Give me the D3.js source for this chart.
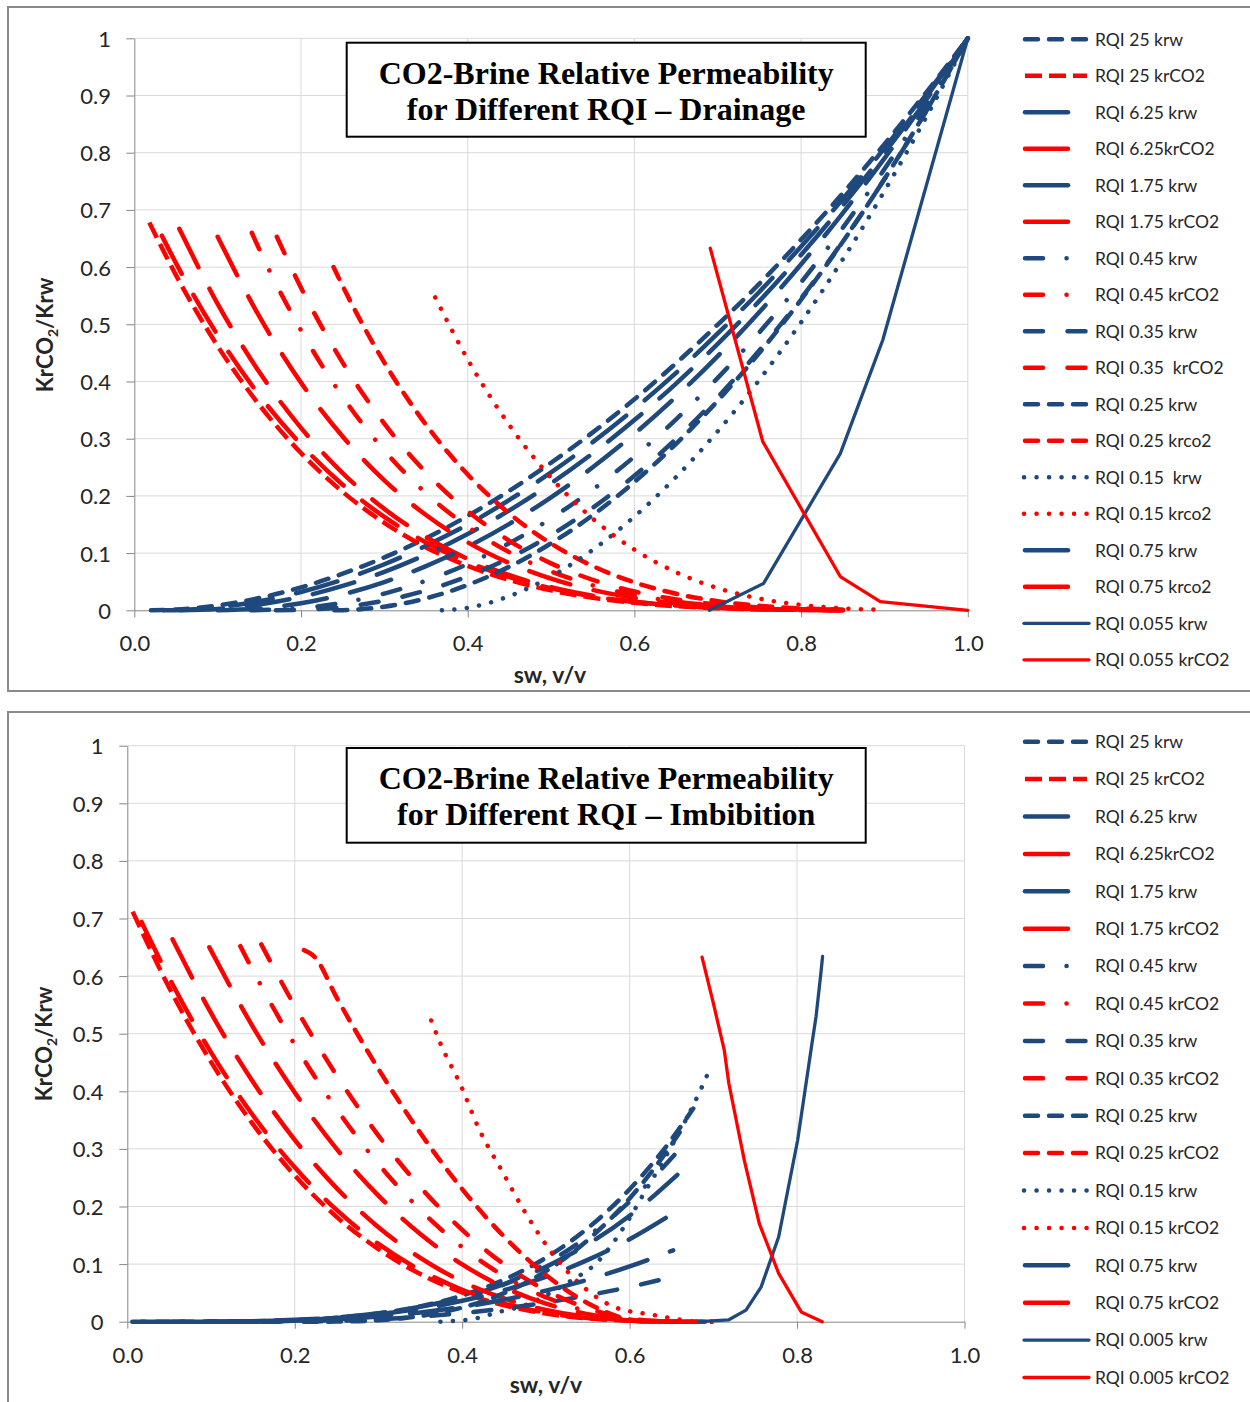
<!DOCTYPE html>
<meta charset="utf-8">
<script src="https://d3js.org/d3.v7.min.js"></script>
<style>
  body { margin: 0; background: #fff; }
  text { font-family: Lato, "Open Sans", sans-serif; }
</style>
<div id="chart"></div>
<script>
// ---------- data (Sw, kr) ----------
var xTicks = [0, 0.2, 0.4, 0.6, 0.8, 1.0];
var yTicks = [0, 0.1, 0.2, 0.3, 0.4, 0.5, 0.6, 0.7, 0.8, 0.9, 1];

// drainage, krw
var drKrw25   = [[0.02,0],[0.05,0.0013],[0.1,0.0086],[0.15,0.0215],[0.2,0.040],[0.25,0.064],[0.3,0.0925],[0.35,0.126],[0.4,0.165],[0.45,0.209],[0.5,0.258],[0.55,0.311],[0.6,0.369],[0.65,0.432],[0.7,0.4995],[0.75,0.571],[0.8,0.648],[0.85,0.729],[0.9,0.815],[0.95,0.905],[1,1]];
var drKrw625  = [[0.035,0],[0.05,0.0003],[0.1,0.0052],[0.15,0.0158],[0.2,0.032],[0.25,0.0535],[0.3,0.0805],[0.35,0.113],[0.4,0.150],[0.45,0.193],[0.5,0.241],[0.55,0.294],[0.6,0.352],[0.65,0.415],[0.7,0.484],[0.75,0.557],[0.8,0.636],[0.85,0.719],[0.9,0.808],[0.95,0.9015],[1,1]];
var drKrw175  = [[0.055,0],[0.1,0.0023],[0.15,0.0101],[0.2,0.0235],[0.25,0.0426],[0.3,0.0672],[0.35,0.0975],[0.4,0.1333],[0.45,0.1747],[0.5,0.2218],[0.55,0.2744],[0.6,0.3326],[0.65,0.3964],[0.7,0.4658],[0.75,0.5409],[0.8,0.6215],[0.85,0.7077],[0.9,0.7996],[0.95,0.897],[1,1]];
var drKrw045  = [[0.14,0],[0.2,0.0037],[0.25,0.0133],[0.3,0.0292],[0.35,0.0518],[0.4,0.081],[0.45,0.1174],[0.5,0.1606],[0.55,0.211],[0.6,0.2687],[0.65,0.3338],[0.7,0.4063],[0.75,0.486],[0.8,0.5735],[0.85,0.6687],[0.9,0.7714],[0.95,0.8819],[1,1]];
var drKrw035  = [[0.17,0],[0.2,0.0007],[0.25,0.0058],[0.3,0.0169],[0.35,0.0347],[0.4,0.0594],[0.45,0.0916],[0.5,0.1315],[0.55,0.1793],[0.6,0.2353],[0.65,0.2997],[0.7,0.3728],[0.75,0.4545],[0.8,0.5453],[0.85,0.645],[0.9,0.7539],[0.95,0.8723],[1,1]];
var drKrw025  = [[0.24,0],[0.25,0.0002],[0.3,0.0062],[0.35,0.0209],[0.4,0.0443],[0.45,0.0763],[0.5,0.117],[0.55,0.1664],[0.6,0.2244],[0.65,0.291],[0.7,0.3664],[0.75,0.4503],[0.8,0.543],[0.85,0.6442],[0.9,0.7541],[0.95,0.8727],[1,1]];
var drKrw015  = [[0.369,0],[0.4,0.0044],[0.45,0.0248],[0.5,0.059],[0.55,0.1056],[0.6,0.1638],[0.65,0.233],[0.7,0.313],[0.75,0.403],[0.8,0.5035],[0.85,0.6135],[0.9,0.733],[0.95,0.862],[1,1]];
var drKrw075  = [[0.1,0],[0.15,0.0031],[0.2,0.0123],[0.25,0.0278],[0.3,0.0494],[0.35,0.0772],[0.4,0.1111],[0.45,0.1512],[0.5,0.1975],[0.55,0.25],[0.6,0.3086],[0.65,0.3735],[0.7,0.4444],[0.75,0.5216],[0.8,0.605],[0.85,0.6944],[0.9,0.7901],[0.95,0.892],[1,1]];
var drKrw0055 = [[0.69,0],[0.755,0.047],[0.847,0.274],[0.898,0.4725],[1,1]];

// drainage, krCO2
var drKrg25   = [[0.018,0.678],[0.05,0.586],[0.1,0.462],[0.15,0.359],[0.2,0.275],[0.25,0.207],[0.3,0.153],[0.35,0.110],[0.4,0.0776],[0.45,0.0529],[0.5,0.0348],[0.55,0.0219],[0.6,0.013],[0.65,0.0072],[0.7,0.0037],[0.75,0.0017],[0.8,0.0007],[0.85,0.0002]];
var drKrg625  = [[0.033,0.655],[0.05,0.607],[0.1,0.481],[0.15,0.376],[0.2,0.29],[0.25,0.2196],[0.3,0.1633],[0.35,0.1187],[0.4,0.0842],[0.45,0.0579],[0.5,0.0384],[0.55,0.0244],[0.6,0.0147],[0.65,0.0083],[0.7,0.0043],[0.75,0.002],[0.8,0.0008],[0.85,0.0002]];
var drKrg175  = [[0.054,0.667],[0.1,0.5357],[0.15,0.4165],[0.2,0.319],[0.25,0.24],[0.3,0.1773],[0.35,0.128],[0.4,0.0899],[0.45,0.0614],[0.5,0.0403],[0.55,0.0254],[0.6,0.0151],[0.65,0.0084],[0.7,0.0043],[0.75,0.002],[0.8,0.0008],[0.85,0.0002]];
var drKrg045  = [[0.141,0.66],[0.15,0.631],[0.2,0.4895],[0.25,0.3732],[0.3,0.2794],[0.35,0.2046],[0.4,0.1463],[0.45,0.1015],[0.5,0.068],[0.55,0.0437],[0.6,0.0267],[0.65,0.0152],[0.7,0.008],[0.75,0.0037],[0.8,0.0014],[0.85,0.0004]];
var drKrg035  = [[0.171,0.653],[0.2,0.564],[0.25,0.433],[0.3,0.3264],[0.35,0.2409],[0.4,0.1736],[0.45,0.1215],[0.5,0.0821],[0.55,0.0533],[0.6,0.0329],[0.65,0.019],[0.7,0.0101],[0.75,0.0048],[0.8,0.0019],[0.85,0.0006]];
var drKrg025  = [[0.239,0.6],[0.25,0.567],[0.3,0.433],[0.35,0.3244],[0.4,0.2374],[0.45,0.1691],[0.5,0.1166],[0.55,0.0773],[0.6,0.0488],[0.65,0.029],[0.7,0.0159],[0.75,0.0078],[0.8,0.0033],[0.85,0.0011]];
var drKrg015  = [[0.361,0.547],[0.4,0.4388],[0.45,0.3236],[0.5,0.2318],[0.55,0.1603],[0.6,0.1061],[0.65,0.0665],[0.7,0.0388],[0.75,0.0205],[0.8,0.0094],[0.85,0.0034],[0.9,0.0009]];
var drKrg075  = [[0.1,0.653],[0.15,0.5137],[0.2,0.398],[0.25,0.3037],[0.3,0.2272],[0.35,0.1665],[0.4,0.1189],[0.45,0.0825],[0.5,0.0553],[0.55,0.0355],[0.6,0.0217],[0.65,0.0124],[0.7,0.0065],[0.75,0.003],[0.8,0.0012],[0.85,0.0004]];
var drKrg0055 = [[0.691,0.633],[0.754,0.295],[0.847,0.059],[0.895,0.015],[1,0]];

// imbibition, krw
var imKrw25   = [[0.006,0],[0.1,0.0002],[0.15,0.0009],[0.2,0.0028],[0.25,0.0068],[0.3,0.0143],[0.35,0.0266],[0.4,0.0454],[0.45,0.0729],[0.5,0.111],[0.55,0.1624],[0.6,0.23],[0.65,0.3164],[0.676,0.37]];
var imKrw625  = [[0.017,0],[0.1,0.0002],[0.15,0.001],[0.2,0.0032],[0.25,0.0074],[0.3,0.0147],[0.35,0.0259],[0.4,0.0423],[0.45,0.065],[0.5,0.0952],[0.55,0.1344],[0.6,0.184],[0.657,0.255]];
var imKrw175  = [[0.054,0],[0.1,0.0001],[0.15,0.0008],[0.2,0.0027],[0.25,0.0066],[0.3,0.0131],[0.35,0.0228],[0.4,0.0364],[0.45,0.0546],[0.5,0.078],[0.55,0.1073],[0.6,0.1432],[0.654,0.19]];
var imKrw045  = [[0.135,0],[0.2,0.0006],[0.25,0.0032],[0.3,0.0093],[0.35,0.0206],[0.4,0.0386],[0.45,0.0648],[0.5,0.1008],[0.55,0.1482],[0.6,0.2084],[0.66,0.30]];
var imKrw035  = [[0.16,0],[0.2,0.0002],[0.25,0.0016],[0.3,0.0043],[0.35,0.0087],[0.4,0.015],[0.45,0.0231],[0.5,0.0333],[0.55,0.0457],[0.6,0.0603],[0.652,0.078]];
var imKrw025  = [[0.211,0],[0.25,0.0002],[0.3,0.0026],[0.35,0.0098],[0.4,0.0245],[0.45,0.0496],[0.5,0.0878],[0.55,0.1416],[0.6,0.214],[0.65,0.3076],[0.664,0.338]];
var imKrw015  = [[0.374,0],[0.417,0.006],[0.444,0.017],[0.476,0.029],[0.504,0.049],[0.531,0.072],[0.559,0.1],[0.6,0.18],[0.618,0.225],[0.636,0.269],[0.654,0.315],[0.673,0.367],[0.6865,0.408],[0.698,0.446]];
var imKrw075  = [[0.098,0],[0.15,0.0003],[0.2,0.0015],[0.25,0.0043],[0.3,0.009],[0.35,0.016],[0.4,0.0256],[0.45,0.0381],[0.5,0.0539],[0.55,0.073],[0.6,0.096],[0.652,0.124]];
var imKrw0005 = [[0.683,0],[0.718,0.003],[0.739,0.02],[0.757,0.06],[0.778,0.147],[0.8007,0.315],[0.8167,0.472],[0.8227,0.53],[0.828,0.599],[0.8305,0.634]];

// imbibition, krCO2
var imKrg25   = [[0.0064,0.712],[0.05,0.58],[0.1,0.451],[0.15,0.343],[0.2,0.254],[0.25,0.182],[0.3,0.126],[0.35,0.0826],[0.4,0.0508],[0.45,0.0286],[0.5,0.0142],[0.55,0.0057],[0.6,0.0016],[0.65,0.0002],[0.7,0]];
var imKrg625  = [[0.017,0.694],[0.05,0.597],[0.1,0.4676],[0.15,0.3585],[0.2,0.268],[0.25,0.194],[0.3,0.135],[0.35,0.0895],[0.4,0.0555],[0.45,0.0315],[0.5,0.0156],[0.55,0.0062],[0.6,0.0017],[0.65,0.0001],[0.69,0]];
var imKrg175  = [[0.054,0.664],[0.1,0.536],[0.15,0.4166],[0.2,0.3157],[0.25,0.2319],[0.3,0.1641],[0.35,0.1106],[0.4,0.0698],[0.45,0.0403],[0.5,0.0203],[0.55,0.0082],[0.6,0.0021],[0.65,0.0001],[0.68,0]];
var imKrg045  = [[0.135,0.652],[0.15,0.61],[0.2,0.481],[0.25,0.3692],[0.3,0.2738],[0.35,0.1941],[0.4,0.1295],[0.45,0.0792],[0.5,0.0424],[0.55,0.0179],[0.6,0.0044],[0.66,0]];
var imKrg035  = [[0.16,0.655],[0.2,0.548],[0.25,0.4277],[0.3,0.3231],[0.35,0.2337],[0.4,0.1594],[0.45,0.0998],[0.5,0.0545],[0.55,0.0233],[0.6,0.0054],[0.65,0]];
var imKrg025  = [[0.211,0.645],[0.224,0.633],[0.25,0.563],[0.3,0.4387],[0.35,0.3276],[0.4,0.2303],[0.45,0.1478],[0.5,0.0812],[0.55,0.0321],[0.6,0.0037],[0.62,0]];
var imKrg015  = [[0.363,0.523],[0.374,0.483],[0.399,0.408],[0.419,0.338],[0.447,0.263],[0.476,0.188],[0.508,0.118],[0.545,0.06],[0.581,0.026],[0.627,0.012],[0.677,0]];
var imKrg075  = [[0.098,0.65],[0.15,0.512],[0.2,0.398],[0.25,0.30],[0.3,0.2188],[0.35,0.1522],[0.4,0.0995],[0.45,0.0596],[0.5,0.0313],[0.55,0.0131],[0.6,0.0034],[0.65,0.0001],[0.67,0]];
var imKrg0005 = [[0.6865,0.633],[0.7,0.553],[0.713,0.472],[0.7185,0.414],[0.737,0.28],[0.755,0.17],[0.778,0.084],[0.805,0.017],[0.83,0]];

var drainLabels = ["RQI 25 krw","RQI 25 krCO2","RQI 6.25 krw","RQI 6.25krCO2","RQI 1.75 krw","RQI 1.75 krCO2","RQI 0.45 krw","RQI 0.45 krCO2","RQI 0.35 krw","RQI 0.35  krCO2","RQI 0.25 krw","RQI 0.25 krco2","RQI 0.15  krw","RQI 0.15 krco2","RQI 0.75 krw","RQI 0.75 krco2","RQI 0.055 krw","RQI 0.055 krCO2"];
var imbLabels   = ["RQI 25 krw","RQI 25 krCO2","RQI 6.25 krw","RQI 6.25krCO2","RQI 1.75 krw","RQI 1.75 krCO2","RQI 0.45 krw","RQI 0.45 krCO2","RQI 0.35 krw","RQI 0.35 krCO2","RQI 0.25 krw","RQI 0.25 krCO2","RQI 0.15 krw","RQI 0.15 krCO2","RQI 0.75 krw","RQI 0.75 krCO2","RQI 0.005 krw","RQI 0.005 krCO2"];
var drainData = [drKrw25, drKrg25, drKrw625, drKrg625, drKrw175, drKrg175, drKrw045, drKrg045, drKrw035, drKrg035, drKrw025, drKrg025, drKrw015, drKrg015, drKrw075, drKrg075, drKrw0055, drKrg0055];
var imbData   = [imKrw25, imKrg25, imKrw625, imKrg625, imKrw175, imKrg175, imKrw045, imKrg045, imKrw035, imKrg035, imKrw025, imKrg025, imKrw015, imKrg015, imKrw075, imKrg075, imKrw0005, imKrg0005];
var seriesStyle = ["dash","dashSq","longDash","longDash","longDash","longDash","dashDot","dashDot","wideDash","wideDash","dash","dash","dot","dot","longDash","longDash","solid","solid"];

// ---------- styles ----------
var BLUE = "#1F497D", RED = "#FF0000";
var lineStyles = {
  dash:     {dash: "13 11",          cap: "round", w: 4.5, x0: 1025, x1: 1086},
  dashSq:   {dash: "17 7",           cap: "butt",  w: 4.5, x0: 1025, x1: 1087},
  longDash: {dash: "43 24",          cap: "round", w: 4.5, x0: 1025, x1: 1086},
  dashDot:  {dash: "18 23.5 0.1 25", cap: "round", w: 4.5, x0: 1025, x1: 1086},
  wideDash: {dash: "18 24.5",        cap: "round", w: 4.5, x0: 1025, x1: 1086},
  dot:      {dash: "0.1 12.4",       cap: "round", w: 4.5, x0: 1024, x1: 1087},
  solid:    {dash: null,             cap: "round", w: 3.3, x0: 1024, x1: 1089}
};

var svg = d3.select("#chart").append("svg")
  .attr("width", 1250).attr("height", 1402);

var panels = [
  {frame: [8, 7, 1260, 684], x: [134.3, 967.8], y: [610.3, 38.3], yLabelX: 111, xLabelY: 651,
   titleBox: [346.7, 42.7, 519, 94], titleY: [83.5, 119.5], title2: "for Different RQI \u2013 Drainage",
   xTitle: [550, 683], yTitle: [53, 335], legendY0: 39.3, legendStep: 36.5,
   data: drainData, labels: drainLabels},
  {frame: [8, 712, 1260, 720], x: [127.3, 964.5], y: [1321.7, 745.7], yLabelX: 103.5, xLabelY: 1363,
   titleBox: [346.7, 748, 519, 94.7], titleY: [788.5, 825], title2: "for Different RQI \u2013 Imbibition",
   xTitle: [546, 1393], yTitle: [51.5, 1044], legendY0: 741.7, legendStep: 37.4,
   data: imbData, labels: imbLabels}
];

panels.forEach(function(p) {
  var g = svg.append("g");
  g.append("rect")
    .attr("x", p.frame[0]).attr("y", p.frame[1])
    .attr("width", p.frame[2]).attr("height", p.frame[3])
    .attr("fill", "#fff").attr("stroke", "#8a8a8a").attr("stroke-width", 2);

  var x = d3.scaleLinear().domain([0, 1]).range(p.x);
  var y = d3.scaleLinear().domain([0, 1]).range(p.y);

  // grid
  g.append("g").selectAll("line").data(yTicks.slice(1)).join("line")
    .attr("x1", p.x[0]).attr("x2", p.x[1])
    .attr("y1", function(d) { return y(d); }).attr("y2", function(d) { return y(d); })
    .attr("stroke", "#d9d9d9").attr("stroke-width", 1);
  g.append("g").selectAll("line").data(xTicks.slice(1)).join("line")
    .attr("y1", p.y[0]).attr("y2", p.y[1])
    .attr("x1", function(d) { return x(d); }).attr("x2", function(d) { return x(d); })
    .attr("stroke", "#d9d9d9").attr("stroke-width", 1);

  // axes
  var xAxis = g.append("g")
    .attr("transform", "translate(0," + p.y[0] + ")")
    .call(d3.axisBottom(x).tickValues(xTicks).tickFormat(d3.format(".1f")).tickSize(7).tickSizeOuter(0));
  var yAxis = g.append("g")
    .attr("transform", "translate(" + p.x[0] + ",0)")
    .call(d3.axisLeft(y).tickValues(yTicks).tickFormat(function(d) { return String(+d.toFixed(1)); }).tickSize(8).tickSizeOuter(0));
  [xAxis, yAxis].forEach(function(a) {
    a.select(".domain").attr("stroke", "#868686");
    a.selectAll(".tick line").attr("stroke", "#868686");
    a.selectAll(".tick text").attr("fill", "#262626")
      .style("font-family", "Lato, sans-serif").style("font-size", "22px");
  });
  xAxis.selectAll(".tick text").attr("y", p.xLabelY - p.y[0]).attr("dy", 0);
  yAxis.selectAll(".tick text").attr("x", p.yLabelX - p.x[0]).attr("dy", "0.36em");

  // axis titles
  g.append("text").attr("x", p.xTitle[0]).attr("y", p.xTitle[1])
    .attr("text-anchor", "middle").attr("fill", "#262626")
    .style("font-size", "23px").style("font-weight", "bold").text("sw, v/v");
  var yt = g.append("text")
    .attr("transform", "translate(" + p.yTitle[0] + "," + p.yTitle[1] + ") rotate(-90)")
    .attr("text-anchor", "middle").attr("fill", "#262626")
    .style("font-size", "22px").style("font-weight", "bold");
  yt.append("tspan").text("KrCO");
  yt.append("tspan").attr("dy", 5).style("font-size", "14px").text("2");
  yt.append("tspan").attr("dy", -5).text("/Krw");

  // curves
  var lineCurve = d3.line()
    .x(function(d) { return x(d[0]); }).y(function(d) { return y(d[1]); })
    .curve(d3.curveMonotoneX);
  var lineStraight = d3.line()
    .x(function(d) { return x(d[0]); }).y(function(d) { return y(d[1]); });

  p.data.forEach(function(arr, i) {
    var st = lineStyles[seriesStyle[i]];
    var col = i % 2 === 0 ? BLUE : RED;
    g.append("path").datum(arr)
      .attr("d", seriesStyle[i] === "solid" ? lineStraight : lineCurve)
      .attr("fill", "none").attr("stroke", col)
      .attr("stroke-width", st.w)
      .attr("stroke-linecap", st.cap).attr("stroke-linejoin", "round")
      .attr("stroke-dasharray", st.dash);
  });

  // title box
  g.append("rect")
    .attr("x", p.titleBox[0]).attr("y", p.titleBox[1])
    .attr("width", p.titleBox[2]).attr("height", p.titleBox[3])
    .attr("fill", "#fff").attr("stroke", "#000").attr("stroke-width", 2);
  var cx = p.titleBox[0] + p.titleBox[2] / 2;
  [["CO2-Brine Relative Permeability", p.titleY[0]], [p.title2, p.titleY[1]]].forEach(function(t) {
    g.append("text").attr("x", cx).attr("y", t[1]).attr("text-anchor", "middle")
      .style("font-family", "'Liberation Serif', 'Times New Roman', serif")
      .style("font-size", "32px").style("font-weight", "bold").attr("fill", "#000")
      .text(t[0]);
  });

  // legend
  var lg = g.append("g");
  p.labels.forEach(function(lab, i) {
    var st = lineStyles[seriesStyle[i]];
    var ly = p.legendY0 + i * p.legendStep;
    lg.append("line")
      .attr("x1", st.x0).attr("x2", st.x1).attr("y1", ly).attr("y2", ly)
      .attr("stroke", i % 2 === 0 ? BLUE : RED).attr("stroke-width", st.w)
      .attr("stroke-linecap", st.cap).attr("stroke-dasharray", st.dash);
    lg.append("text").attr("x", 1095).attr("y", ly).attr("dy", "0.36em")
      .attr("fill", "#262626").style("font-size", "17.5px").style("white-space", "pre")
      .text(lab);
  });
});
</script>
